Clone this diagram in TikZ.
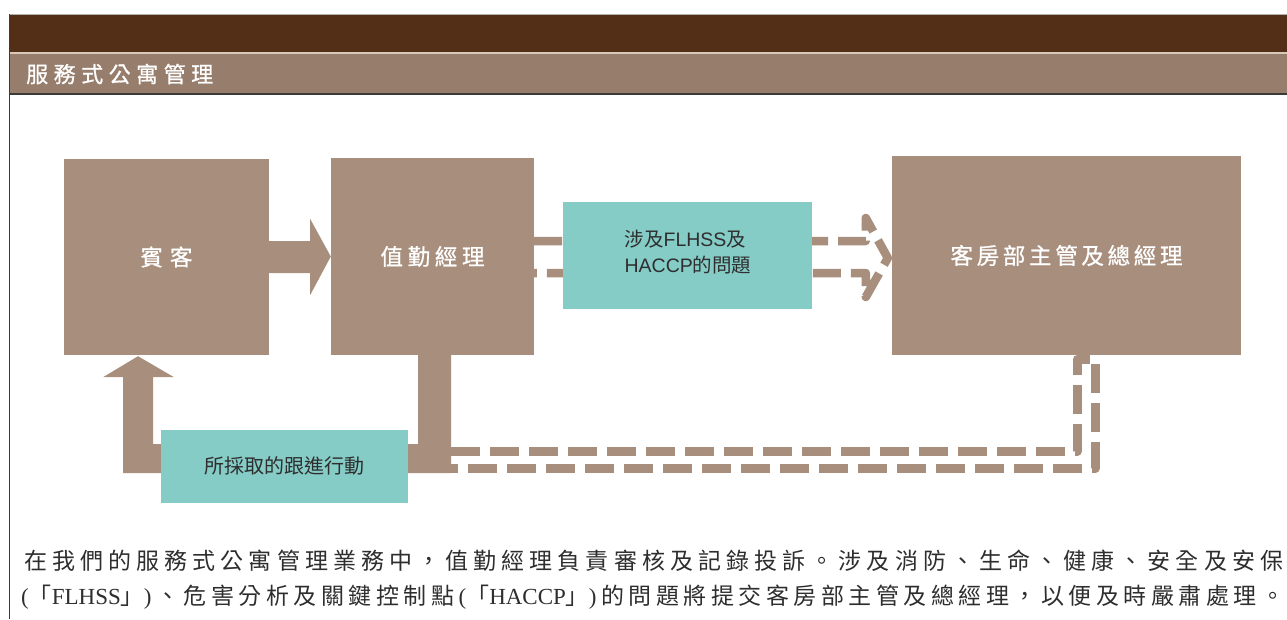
\documentclass[tikz,border=0pt]{standalone}
\usepackage{fontspec}
\setmainfont{Liberation Serif}
\newfontfamily\cjk{Noto Sans CJK TC}
\newfontfamily\cjkm[FakeBold=0.8]{Noto Sans CJK TC}
\newfontfamily\lsans{Liberation Sans}
\newfontfamily\lat{Liberation Serif}
\usetikzlibrary{calc}
\definecolor{topbar}{HTML}{532F18}
\definecolor{titlebar}{HTML}{977D6B}
\definecolor{lightline}{HTML}{D9C9B9}
\definecolor{brownc}{HTML}{A88F7D}
\definecolor{tealc}{HTML}{85CBC6}
\definecolor{darkline}{HTML}{3A3A3A}
\definecolor{textc}{HTML}{2E2E2E}
\makeatletter
\newcommand\sptext[1]{\@tfor\sp@c:=#1\do{\sp@c\hfill}\unskip}
\makeatother
\newcommand\spbox[2]{\makebox[#1]{\sptext{#2}}}
\tikzset{
  brownbox/.style={fill=brownc, inner sep=0pt, text=white, font=\cjkm\fontsize{22.5}{26}\selectfont},
  tealbox/.style={fill=tealc, inner sep=0pt, text=textc},
  brownfill/.style={fill=brownc},
  dashline/.style={draw=brownc, line width=8.5pt, line cap=butt, line join=round, dash pattern=on 28pt off 10pt},
  para/.style={anchor=west, inner sep=0pt, text=textc, font=\cjk\fontsize{23}{27}\selectfont},
}
\begin{document}
\begin{tikzpicture}[x=1pt,y=-1pt]
\useasboundingbox[fill=white] (0,0) rectangle (1287,619);
% header bars
\fill[topbar] (9,15) rectangle (1287,52);
\draw[color=gray!60, line width=1pt] (9,14.5) -- (1287,14.5);
\fill[lightline] (9,52) rectangle (1287,53.5);
\fill[titlebar] (9,53.5) rectangle (1287,93.5);
\draw[darkline, line width=1.5pt] (9,94) -- (1287,94);
\draw[darkline, line width=1.5pt] (9.5,14) -- (9.5,619);
\node[anchor=west, inner sep=0pt, text=white, font=\cjkm\fontsize{22}{26}\selectfont] (title) at (26,74) {\spbox{187pt}{服務式公寓管理}};
% main boxes
\node[brownbox, minimum width=205pt, minimum height=196pt] (guest) at (166.5,257) {\raisebox{-3.5pt}{\spbox{52pt}{賓客}}};
\node[brownbox, minimum width=203pt, minimum height=197pt] (duty) at (432.5,256.5) {\raisebox{-3pt}{\spbox{104pt}{值勤經理}}};
\node[brownbox, minimum width=349pt, minimum height=199pt] (mgr) at (1066.5,255.5) {\raisebox{-1pt}{\spbox{232pt}{客房部主管及總經理}}};
% guest -> duty block arrow
\fill[brownfill] ($(guest.east)+(0,-16)$) -- ($(guest.east)+(41,-16)$) -- ($(guest.east)+(41,-38)$)
  -- (duty.west) -- ($(guest.east)+(41,38)$) -- ($(guest.east)+(41,16)$) -- ($(guest.east)+(0,16)$) -- cycle;
% duty -> mgr dashed outline arrow
\draw[dashline] ($(duty.east)+(0,-15.5)$) -- ($(mgr.west)+(-26,-14.5)$) -- ($(mgr.west)+(-26,-37.5)$)
  -- ($(mgr.west)+(-4,2.5)$) -- ($(mgr.west)+(-26,41.5)$) -- ($(mgr.west)+(-26,17.5)$) -- ($(duty.east)+(0,16.5)$);
% mgr -> duty return dashed outline
\draw[dashline, line width=9pt, dash pattern=on 29pt off 10pt] ($(duty.south)+(18.5,96)$) -- ($(mgr.south)+(10.5,96)$) -- ($(mgr.south)+(10.5,4)$)
  -- ($(mgr.south)+(28.5,4)$) -- ($(mgr.south)+(28.5,113)$) -- ($(duty.south)+(18.5,113)$);
% duty -> guest return block arrow
\fill[brownfill] ($(duty.south)+(-14.5,0)$) -- ($(duty.south)+(18.5,0)$) -- ($(duty.south)+(18.5,118)$)
  -- ($(guest.south)+(-43.5,118)$) -- ($(guest.south)+(-43.5,22)$) -- ($(guest.south)+(-63.5,22)$)
  -- ($(guest.south)+(-28.5,1)$) -- ($(guest.south)+(7.5,22)$) -- ($(guest.south)+(-13.5,22)$)
  -- ($(guest.south)+(-13.5,89)$) -- ($(duty.south)+(-14.5,89)$) -- cycle;
% teal boxes
\node[tealbox, minimum width=249pt, minimum height=107pt] (issue) at (687.5,255.5) {};
\node[inner sep=0pt, text=textc, align=left, font=\cjk\fontsize{19.5}{26}\selectfont] (issuetext) at (688,252) {涉及\lsans FLHSS\cjk 及\\\lsans HACCP\cjk 的問題};
\node[tealbox, minimum width=247pt, minimum height=73pt, font=\cjk\fontsize{20}{24}\selectfont] (action) at (284.5,466) {\spbox{158pt}{所採取的跟進行動}};
% paragraph
\node[para] (line1) at (24,561) {\spbox{1259pt}{在我們的服務式公寓管理業務中，值勤經理負責審核及記錄投訴。涉及消防、生命、健康、安全及安保}};
\node[para] (line2) at (21,597) {\spbox{1263pt}{{{\lat(}「{\lat FLHSS}」{\lat)}}、危害分析及關鍵控制點{{\lat(}「{\lat HACCP}」{\lat)}}的問題將提交客房部主管及總經理，以便及時嚴肅處理。}};
\end{tikzpicture}
\end{document}
